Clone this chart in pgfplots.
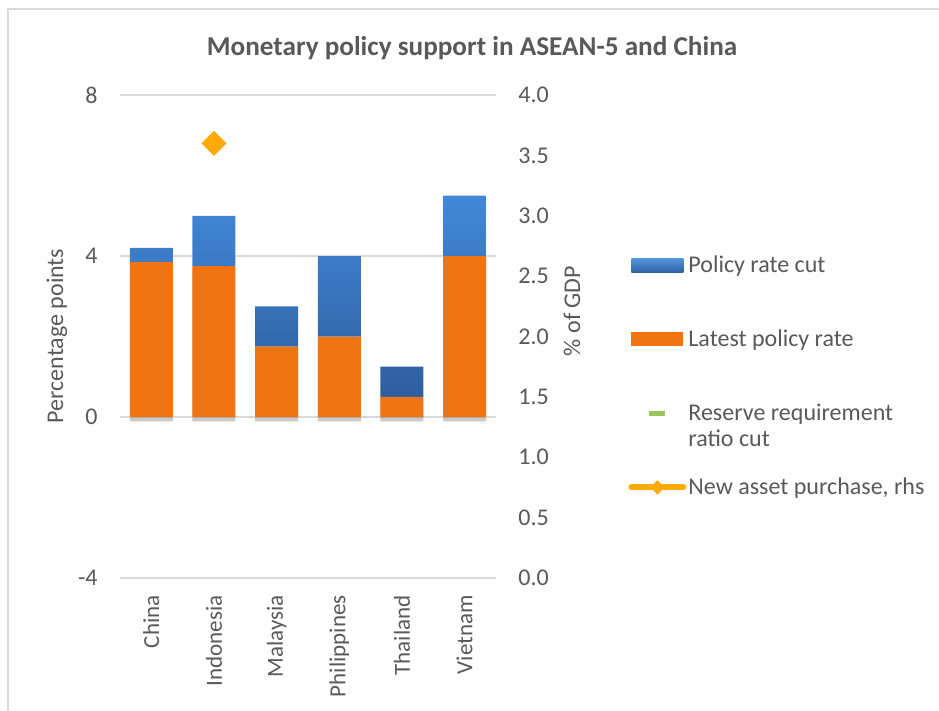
\documentclass[border=0pt]{standalone}
\usepackage{fontspec}
\setmainfont{Carlito}
\usepackage{pgfplots}
\pgfplotsset{compat=1.18}
\usetikzlibrary{shadows}
\definecolor{txt}{HTML}{595959}
\definecolor{gridc}{HTML}{D9D9D9}
\definecolor{blueT}{RGB}{66,136,216}
\definecolor{blueB}{RGB}{46,94,158}
\definecolor{blueL}{RGB}{58,120,196}
\definecolor{orng}{RGB}{240,117,18}
\definecolor{gold}{RGB}{255,170,10}
\definecolor{rrr}{RGB}{155,196,92}
\newcommand{\lf}{\fontsize{12bp}{14bp}\selectfont}
\begin{document}
\begin{tikzpicture}
\path[use as bounding box] (0,0) rectangle (469.5bp,-355.5bp);
\draw[gridc, line width=1bp] (4bp,-356bp) -- (4bp,-4.5bp) -- (470bp,-4.5bp);
\node[anchor=base, font=\bfseries\fontsize{13.6bp}{16bp}\selectfont, text=txt] at (236bp,-27.5bp) {Monetary policy support in ASEAN-5 and China};
\node[rotate=90, font=\lf, text=txt] at (28.5bp,-168bp) {Percentage points};
\node[rotate=90, font=\lf, text=txt] at (286bp,-155.5bp) {\% of GDP};
\begin{axis}[
  at={(60bp,-289bp)}, anchor=south west,
  scale only axis, width=188bp, height=241.5bp,
  xmin=-0.5, xmax=5.5, ymin=-4, ymax=8,
  ytick={-4,0,4,8},
  xtick={0,...,5},
  xticklabels={China,Indonesia,Malaysia,Philippines,Thailand,Vietnam},
  axis line style={draw=none},
  tick style={draw=none},
  major tick length=0pt,
  ymajorgrids, grid style={gridc, line width=1bp},
  yticklabel style={font=\lf, text=txt, inner sep=0pt, xshift=-11bp},
  xticklabel style={font=\fontsize{11.5bp}{14bp}\selectfont, text=txt, rotate=90, anchor=east, inner sep=0pt},
  xticklabel shift=8.5bp,
  /pgf/number format/assume math mode=true,
  ybar stacked, bar width=21.5bp,
]
\addplot[draw=none, fill=orng, drop shadow={shadow xshift=0bp, shadow yshift=-2.2bp, opacity=0.35, fill=black!60}] coordinates {(0,3.85) (1,3.75) (2,1.75) (3,2.0) (4,0.5) (5,4.0)};
\addplot[draw=none, top color=blueT, bottom color=blueB] coordinates {(0,0.35) (1,1.25) (2,1.0) (3,2.0) (4,0.75) (5,1.5)};
\end{axis}
\begin{axis}[
  at={(60bp,-289bp)}, anchor=south west,
  scale only axis, width=188bp, height=241.5bp,
  xmin=-0.5, xmax=5.5, ymin=0, ymax=4,
  axis y line*=right, axis x line=none,
  axis line style={draw=none}, tick style={draw=none}, major tick length=0pt,
  ytick={0,0.5,1,1.5,2,2.5,3,3.5,4},
  yticklabel style={font=\lf, text=txt, inner sep=0pt, xshift=11bp,
    /pgf/number format/fixed, /pgf/number format/fixed zerofill, /pgf/number format/precision=1},
  /pgf/number format/assume math mode=true,
  legend style={at={(1.3511,0.7246)}, anchor=north west, draw=none, fill=none,
    inner sep=0pt, row sep=0pt, column sep=1bp,
    nodes={inner sep=0pt, text depth=}, font=\lf, text=txt},
  legend cell align=left,
]
\addlegendimage{legend image code/.code={\path[draw=none,fill=none] (0bp,0bp) -- (28bp,0bp); \shade[draw=none, top color=blueT!90!white, bottom color=blueB!90!blueT] (1bp,-3.5bp) rectangle (27bp,3.5bp);}}
\addlegendentry{\rule[-15bp]{0pt}{37bp}Policy rate cut}
\addlegendimage{legend image code/.code={\path[draw=none,fill=none] (0bp,0bp) -- (28bp,0bp); \fill[orng, draw=none] (1bp,-3.5bp) rectangle (27bp,3.5bp);}}
\addlegendentry{\rule[-15bp]{0pt}{37bp}Latest policy rate}
\addlegendimage{legend image code/.code={\path[draw=none,fill=none] (0bp,0bp) -- (28bp,0bp); \fill[rrr, draw=none] (10bp,-1.25bp) rectangle (18bp,1.25bp);}}
\addlegendentry{\rule[-15bp]{0pt}{37bp}\raisebox{0pt}[\height][0pt]{\vtop{\baselineskip=13bp\hbox{Reserve requirement}\hbox{ratio cut}}}}
\addplot[gold, only marks, mark=square*, mark size=4.24bp, mark options={rotate=45, draw=gold, fill=gold},
  legend image code/.code={\path[draw=none,fill=none] (0bp,0bp) -- (28bp,0bp); \draw[gold, line width=3bp, line cap=round] (1bp,0bp) -- (27bp,0bp); \fill[gold, draw=none] (14bp,3.6bp) -- (17.6bp,0bp) -- (14bp,-3.6bp) -- (10.4bp,0bp) -- cycle;}]
  coordinates {(1,3.6)};
\addlegendentry{\rule[-15bp]{0pt}{37bp}New asset purchase, rhs}
\end{axis}
\end{tikzpicture}
\end{document}
